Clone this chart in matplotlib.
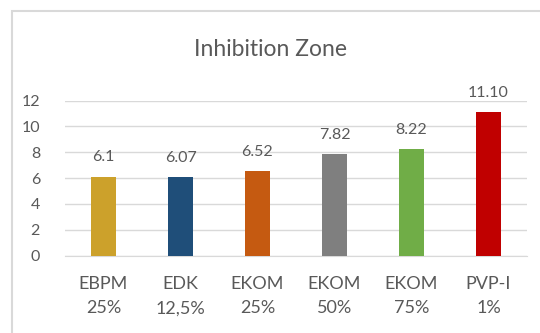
import matplotlib
matplotlib.use("Agg")
import matplotlib.pyplot as plt
from matplotlib.patches import Rectangle

categories = ["EBPM\n25%", "EDK\n12,5%", "EKOM\n25%", "EKOM\n50%", "EKOM\n75%", "PVP-I\n1%"]
values = [6.1, 6.07, 6.52, 7.82, 8.22, 11.10]
value_labels = ["6.1", "6.07", "6.52", "7.82", "8.22", "11.10"]
colors = ["#CCA12B", "#1F4E79", "#C55A11", "#7F7F7F", "#70AD47", "#C00000"]
yticks = [0, 2, 4, 6, 8, 10, 12]

plt.rcParams["font.family"] = ["Lato", "DejaVu Sans"]
text_color = "#595959"
grid_color = "#D9D9D9"

fig = plt.figure(figsize=(5.4, 3.33), dpi=100)
ax = fig.add_axes([65 / 540, 1 - 255.5 / 333, (527 - 65) / 540, (255.5 - 100.5) / 333])

x = range(len(categories))
bars = ax.bar(x, values, width=0.32, color=colors, zorder=3)

for bar, lab in zip(bars, value_labels):
    ax.annotate(lab, (bar.get_x() + bar.get_width() / 2, bar.get_height()),
                xytext=(0, 9), textcoords="offset points", ha="center", va="bottom",
                fontsize=11.5, color=text_color)

ax.set_xlim(-0.5, len(categories) - 0.5)
ax.set_ylim(0, 12)
ax.set_yticks(yticks)
ax.set_xticks(list(x))
ax.set_xticklabels(categories, fontsize=13, color=text_color, linespacing=1.6)
ax.tick_params(axis="y", labelsize=11.5, labelcolor=text_color, length=0, pad=18)
ax.tick_params(axis="x", length=0, pad=15)
ax.grid(axis="y", color=grid_color, linewidth=1, zorder=0)
for s in ["top", "right", "left"]:
    ax.spines[s].set_visible(False)
ax.spines["bottom"].set_color(grid_color)
ax.spines["bottom"].set_zorder(1)

fig.text(0.5, 1 - 50 / 333, "Inhibition Zone", ha="center", va="center",
         fontsize=16.5, color=text_color)

fig.patches.append(Rectangle((12 / 540, -0.05), 1.0, 1 - 11 / 333 + 0.05,
                             transform=fig.transFigure, fill=False,
                             edgecolor=grid_color, linewidth=1.5))

fig.savefig("out.png", dpi=100)
